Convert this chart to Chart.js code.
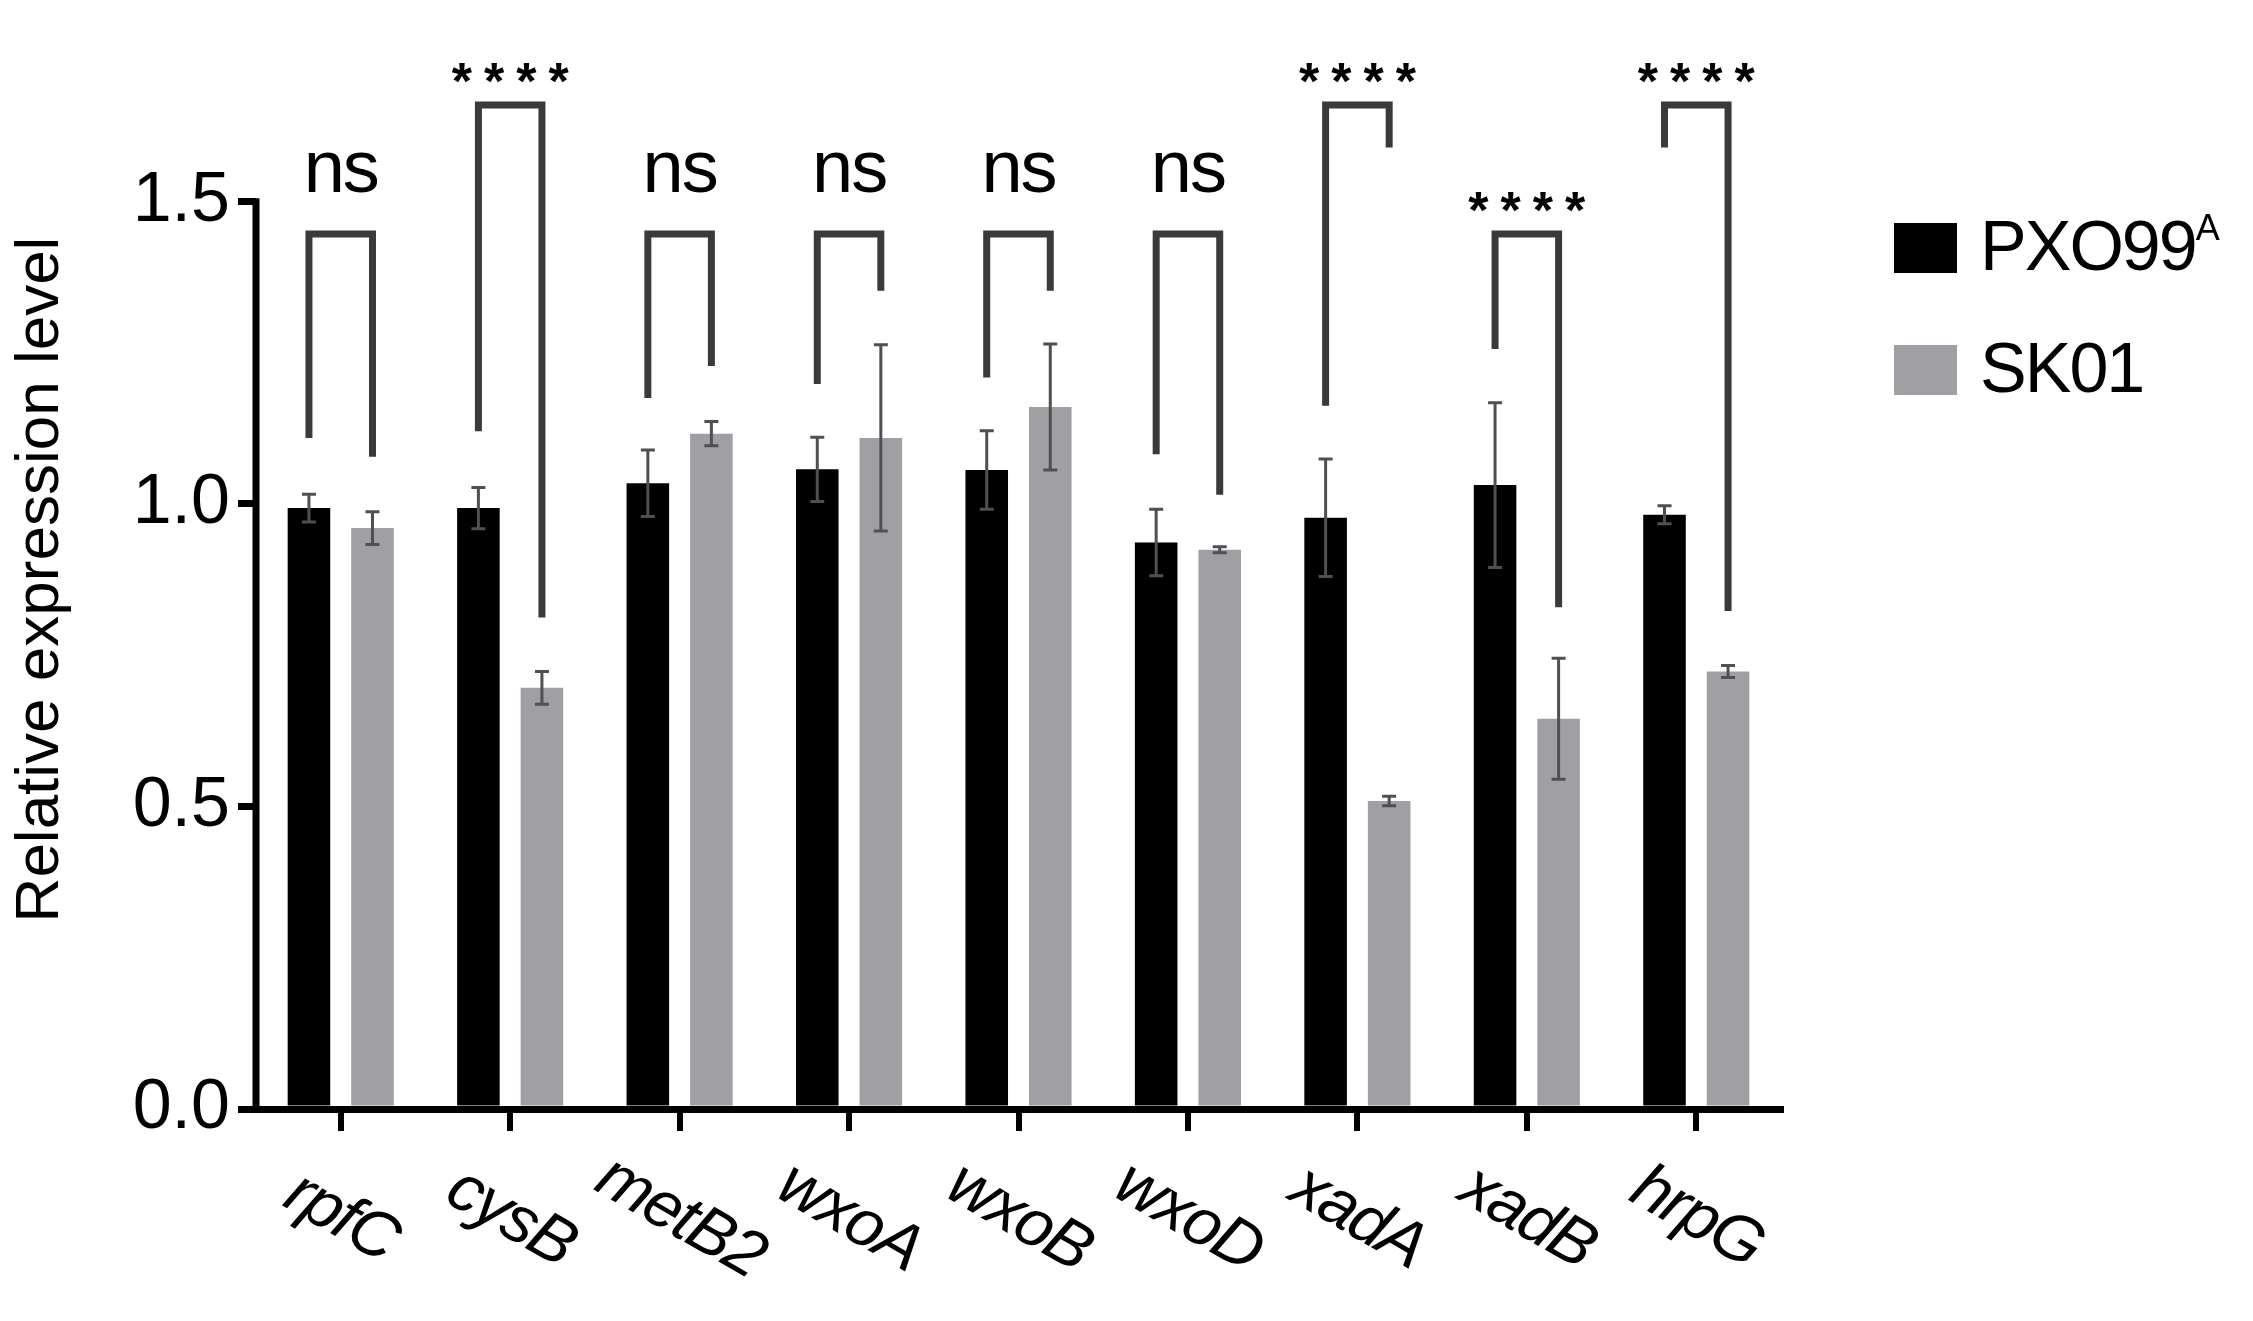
<!DOCTYPE html>
<html>
<head>
<meta charset="utf-8">
<script src="https://cdn.jsdelivr.net/npm/chart.js@4.4.1/dist/chart.umd.min.js"></script>
<style>
  body { margin: 0; background: #fff; }
  #wrap { position: relative; width: 2253px; height: 1321px; }
  .leg { position: absolute; left: 1894px; font-family: "Liberation Sans", Arial, sans-serif; font-size: 70px; color: #000; }
  .leg span.box { position: absolute; left: 0; top: 0; width: 63px; height: 50px; }
  .leg span.txt { position: absolute; left: 86px; top: -17px; white-space: nowrap; letter-spacing: -2px; }
  .leg sup { font-size: 36px; vertical-align: 30px; }
</style>
</head>
<body>
<div id="wrap">
  <canvas id="c" width="2253" height="1321"></canvas>
  <div class="leg" style="top:223px"><span class="box" style="background:#000"></span><span class="txt">PXO99<sup>A</sup></span></div>
  <div class="leg" style="top:345px"><span class="box" style="background:#a0a0a4"></span><span class="txt">SK01</span></div>
</div>
<script>
// gene categories
const genes = ['rpfC', 'cysB', 'metB2', 'wxoA', 'wxoB', 'wxoD', 'xadA', 'xadB', 'hrpG'];
// PXO99A means and error (+/-)
const pxoMean = [0.993, 0.993, 1.034, 1.057, 1.056, 0.936, 0.977, 1.031, 0.982];
const pxoErr  = [0.023, 0.034, 0.055, 0.053, 0.065, 0.055, 0.097, 0.136, 0.015];
// SK01 means and error
const skMean = [0.960, 0.696, 1.116, 1.109, 1.160, 0.924, 0.509, 0.645, 0.723];
const skErr  = [0.027, 0.027, 0.020, 0.154, 0.104, 0.005, 0.008, 0.100, 0.010];
// significance brackets: top, left leg end, right leg end, label
const brTop   = [1.446, 1.659, 1.446, 1.446, 1.446, 1.446, 1.659, 1.446, 1.659];
const brLeft  = [1.109, 1.120, 1.175, 1.198, 1.209, 1.082, 1.162, 1.256, 1.589];
const brRight = [1.078, 0.812, 1.228, 1.352, 1.352, 1.015, 1.589, 0.829, 0.823];
const brLabel = ['ns', '****', 'ns', 'ns', 'ns', 'ns', '****', '****', '****'];
const yTicks = [0, 0.5, 1.0, 1.5];

const FONT = '"Liberation Sans", Arial, sans-serif';

const overlay = {
  id: 'overlay',
  afterDatasetsDraw(chart) {
    const ctx = chart.ctx;
    const x = chart.scales.x, y = chart.scales.y;
    ctx.save();
    // y axis line from 0 to 1.5
    ctx.strokeStyle = '#000';
    ctx.lineWidth = 7;
    ctx.beginPath();
    ctx.moveTo(x.left, y.getPixelForValue(0) + 3);
    ctx.lineTo(x.left, y.getPixelForValue(1.5) - 3);
    ctx.stroke();

    // error bars
    ctx.strokeStyle = '#505050';
    ctx.lineWidth = 3;
    [[0, pxoMean, pxoErr], [1, skMean, skErr]].forEach(([di, m, e]) => {
      const meta = chart.getDatasetMeta(di);
      meta.data.forEach((bar, i) => {
        const hi = y.getPixelForValue(m[i] + e[i]);
        const lo = y.getPixelForValue(m[i] - e[i]);
        ctx.beginPath();
        ctx.moveTo(bar.x, hi); ctx.lineTo(bar.x, lo);
        ctx.moveTo(bar.x - 7, hi); ctx.lineTo(bar.x + 7, hi);
        ctx.moveTo(bar.x - 7, lo); ctx.lineTo(bar.x + 7, lo);
        ctx.stroke();
      });
    });

    // brackets
    const m0 = chart.getDatasetMeta(0), m1 = chart.getDatasetMeta(1);
    ctx.strokeStyle = '#3a3a3a';
    ctx.lineWidth = 7;
    ctx.fillStyle = '#000';
    ctx.textAlign = 'center';
    genes.forEach((g, i) => {
      const xl = m0.data[i].x, xr = m1.data[i].x;
      const yt = y.getPixelForValue(brTop[i]);
      ctx.beginPath();
      ctx.moveTo(xl, y.getPixelForValue(brLeft[i]));
      ctx.lineTo(xl, yt);
      ctx.lineTo(xr, yt);
      ctx.lineTo(xr, y.getPixelForValue(brRight[i]));
      ctx.stroke();
      const cx = (xl + xr) / 2;
      ctx.textBaseline = 'alphabetic';
      if (brLabel[i] === 'ns') {
        ctx.font = '74px ' + FONT;
        ctx.letterSpacing = '-2px';
        ctx.fillText('ns', cx, yt - 42);
        ctx.letterSpacing = '0px';
      } else {
        ctx.font = 'bold 52px ' + FONT;
        ctx.letterSpacing = '12px';
        ctx.fillText('****', cx + 6, yt - 6);
        ctx.letterSpacing = '0px';
      }
    });

    // rotated italic category labels
    ctx.font = 'italic 66px ' + FONT;
    ctx.letterSpacing = '-2px';
    ctx.textAlign = 'center';
    ctx.textBaseline = 'middle';
    genes.forEach((g, i) => {
      ctx.save();
      ctx.translate(x.getPixelForValue(i), 1218);
      ctx.rotate(30 * Math.PI / 180);
      ctx.fillText(g, 0, 0);
      ctx.restore();
    });
    ctx.restore();
  }
};

new Chart(document.getElementById('c'), {
  type: 'bar',
  data: {
    labels: genes,
    datasets: [
      { label: 'PXO99A', data: pxoMean, backgroundColor: '#000000' },
      { label: 'SK01', data: skMean, backgroundColor: '#a0a0a4' }
    ]
  },
  options: {
    responsive: false,
    devicePixelRatio: 1,
    animation: false,
    layout: { padding: { left: 0, right: 472, top: 30, bottom: 0 } },
    datasets: { bar: { categoryPercentage: 0.75, barPercentage: 0.67 } },
    plugins: { legend: { display: false }, tooltip: { enabled: false } },
    scales: {
      x: {
        afterFit: s => { s.height = 1321 - 1109; },
        grid: { offset: false, drawOnChartArea: false, drawTicks: true, tickLength: 22, color: '#000', lineWidth: 6 },
        border: { display: true, color: '#000', width: 7 },
        ticks: { callback: () => '', padding: 0 }
      },
      y: {
        min: 0, max: 1.75,
        afterFit: s => { s.width = 256; },
        afterBuildTicks: s => { s.ticks = yTicks.map(v => ({ value: v })); },
        grid: { drawOnChartArea: false, drawTicks: true, tickLength: 18, color: '#000', lineWidth: 7 },
        border: { display: false },
        ticks: {
          color: '#000', padding: 8,
          font: { family: FONT, size: 70 },
          callback: v => v.toFixed(1)
        },
        title: {
          display: true, text: 'Relative expression level', color: '#000',
          font: { family: FONT, size: 62 }, padding: { bottom: 4 }
        }
      }
    }
  },
  plugins: [overlay]
});
</script>
</body>
</html>
